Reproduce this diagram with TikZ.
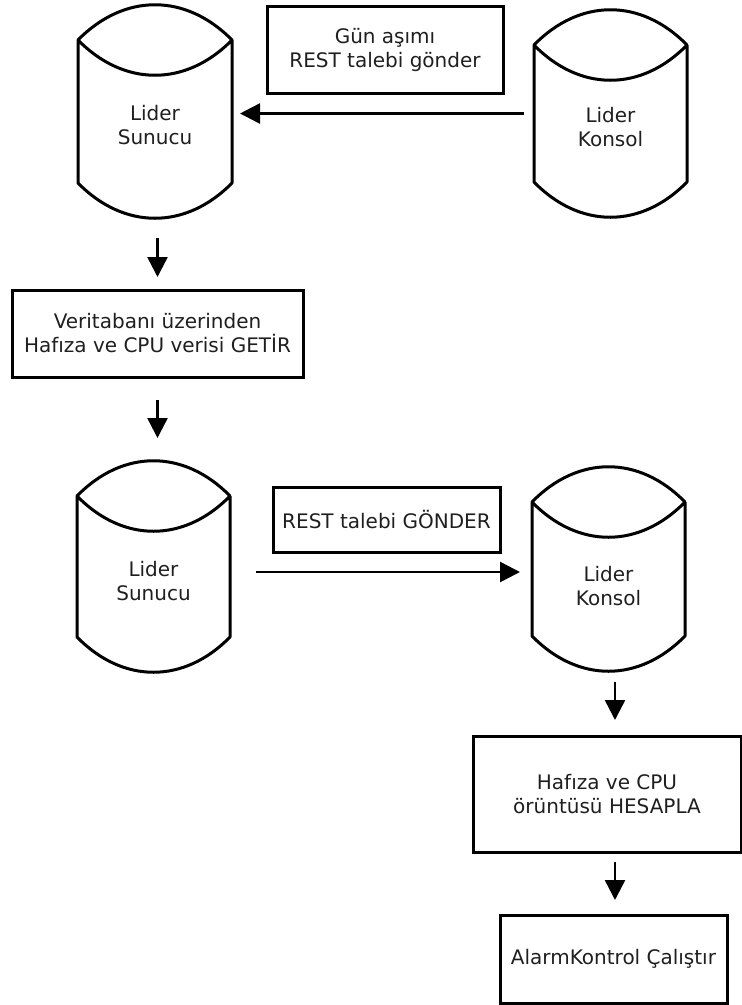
\documentclass[tikz,border=0pt]{standalone}
\usepackage{fontspec}
\setmainfont{DejaVu Sans}
\usetikzlibrary{arrows.meta,calc}
\newcommand{\cylout}[1]{%
  \draw[cylline] (#1.north west)
    .. controls ($(#1.north west)!0.3!(#1.north east)+(0,-47)$) and ($(#1.north west)!0.7!(#1.north east)+(0,-47)$) .. (#1.north east)
    .. controls ($(#1.north west)!0.7!(#1.north east)+(0,47)$) and ($(#1.north west)!0.3!(#1.north east)+(0,47)$) .. (#1.north west)
    -- (#1.south west)
    .. controls ($(#1.south west)!0.3!(#1.south east)+(0,47)$) and ($(#1.south west)!0.7!(#1.south east)+(0,47)$) .. (#1.south east)
    -- (#1.north east);
}
\begin{document}
\begin{tikzpicture}[x=1pt,y=-1pt,
  txt/.style={font=\fontsize{20}{24}\selectfont, align=center, text=black!88, inner sep=0pt},
  cylbody/.style={inner sep=0pt, outer sep=0pt},
  cylline/.style={line width=3pt, line join=round},
  boxn/.style={draw, line width=3pt, txt, inner sep=0pt, outer sep=0pt},
  arr/.style={line width=2.5pt, -{Triangle[length=20pt,width=20pt]}}]
\useasboundingbox (0,0) rectangle (742,1005);

% cylinders
\node[cylbody, minimum width=154pt, minimum height=143pt] (c1) at (155,111.5) {};
\node[txt] (c1t) at ($(c1.center)+(0,14)$) {Lider\\Sunucu};
\cylout{c1}
\node[cylbody, minimum width=153pt, minimum height=137pt] (c2) at (610.5,113.5) {};
\node[txt] (c2t) at ($(c2.center)+(0,14)$) {Lider\\Konsol};
\cylout{c2}
\node[cylbody, minimum width=153pt, minimum height=141pt] (c3) at (153.5,566.5) {};
\node[txt] (c3t) at ($(c3.center)+(0,15)$) {Lider\\Sunucu};
\cylout{c3}
\node[cylbody, minimum width=153pt, minimum height=134pt] (c4) at (608.5,569) {};
\node[txt] (c4t) at ($(c4.center)+(0,17)$) {Lider\\Konsol};
\cylout{c4}

% boxes
\node[boxn, minimum width=236pt, minimum height=87pt] (b2) at (385,49.5) {Gün aşımı\\REST talebi gönder};
\node[boxn, minimum width=291pt, minimum height=87pt] (b1) at (157.5,333.5) {Veritabanı üzerinden\\Hafıza ve CPU verisi GETİR};
\node[boxn, minimum width=227pt, minimum height=65pt] (b3) at (386.5,519.5) {REST talebi GÖNDER};
\node[boxn, minimum width=268pt, minimum height=116pt] (b4) at (607,794) {Hafıza ve CPU\\örüntüsü HESAPLA};
\node[boxn, minimum width=227pt, minimum height=88pt] (b5) at (613.5,959) {AlarmKontrol Çalıştır};

% arrows
\draw[arr] ($(c2.west)+(-10,0)$) -- ($(c1.east |- c2.west)+(8,0)$);
\draw[arr] ($(b1.north |- c1.south)+(0,55)$) -- ($(b1.north)+(0,-13)$);
\draw[arr] ($(b1.south)+(0,23)$) -- ($(b1.south |- c3.north)+(0,-58)$);
\draw[arr] ($(c3.east)+(26,5.5)$) -- ($(c4.west)+(-12,3)$);
\draw[arr] ($(c4.south)+(6.5,46)$) -- ($(c4.south |- b4.north)+(6.5,-16)$);
\draw[arr] ($(b4.south)+(8,10)$) -- ($(b4.south |- b5.north)+(8,-15)$);
\end{tikzpicture}
\end{document}
